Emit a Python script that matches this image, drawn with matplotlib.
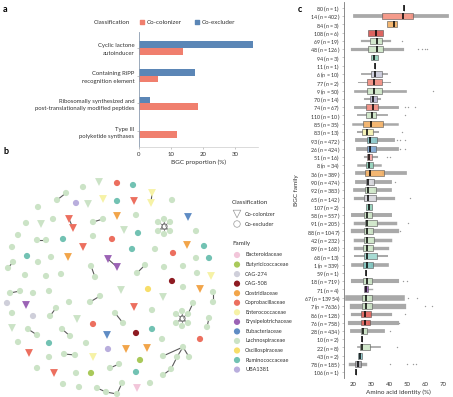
import matplotlib
matplotlib.use("Agg")
import matplotlib.pyplot as plt
import numpy as np

plt.rcParams['font.family'] = ['Lato', 'DejaVu Sans']
plt.rcParams['mathtext.fontset'] = 'custom'
plt.rcParams['mathtext.it'] = 'Lato:italic'
plt.rcParams['mathtext.rm'] = 'Lato'

# ---------------- Panel a data ----------------
a_categories = ["Cyclic lactone\nautoinducer", "Containing RiPP\nrecognition element",
                "Ribosomally synthesized and\npost-translationally modified peptides",
                "Type III\npolyketide synthases"]
a_colonizer = [13.8, 6.0, 18.4, 11.9]
a_excluder = [35.3, 17.5, 3.4, 0.0]
a_xticks = [0, 10, 20, 30]

COL_COLON = "#F07F6E"
COL_EXCL = "#5B86B6"

# ---------------- Panel b data ----------------
family_names = ["Bacteroidaceae", "Butyricicoccaceae", "CAG-274", "CAG-508", "Clostridiaceae",
                "Coprobacillaceae", "Enterococcaceae", "Erysipelotrichaceae", "Eubacteriaceae",
                "Lachnospiraceae", "Oscillospiraceae", "Ruminococcaceae", "UBA1381"]
family_codes = ["N", "K", "G", "D", "O", "R", "Y", "P", "B", "L", "S", "T", "U"]
family_colors = ["#F2C6DA", "#A9C95A", "#CFCFDA", "#8E1B22", "#F2A54A", "#EC6F5F", "#F6F2A6",
                 "#9B63B5", "#5F8CC4", "#CBE3C6", "#F7DE6A", "#72C2B3", "#B9AEDD"]

node_x = [99, 117, 133, 152, 151, 172, 57, 66, 83, 38, 76, 88, 103, 117, 134, 69, 73, 26, 41, 53,
          93, 103, 117, 136, 188, 18, 37, 46, 124, 138, 196, 12, 63, 112, 83, 187, 204, 132, 155, 173,
          27, 38, 51, 68, 108, 117, 196, 209, 13, 8, 91, 95, 145, 137, 164, 183, 93, 197, 211, 25,
          46, 61, 172, 183, 200, 213, 213, 10, 20, 33, 49, 121, 148, 163, 7, 26, 69, 90, 100, 134,
          33, 12, 50, 56, 77, 152, 115, 123, 207, 209, 93, 12, 28, 37, 62, 70, 107, 136, 152, 162,
          200, 18, 49, 86, 108, 126, 147, 183, 189, 177, 163, 29, 49, 64, 75, 93, 140, 171, 163, 37,
          54, 91, 76, 110, 119, 136, 63, 79, 97, 106, 117, 122, 137, 150,
          158, 164, 170, 170, 164, 158, 176, 182, 188, 188, 182, 176, 193]
node_y = [182, 183, 185, 193, 203, 200, 200, 193, 187, 207, 203, 204, 199, 201, 201, 219, 228, 223, 224, 219,
          222, 219, 216, 215, 217, 235, 240, 240, 230, 233, 231, 247, 239, 239, 247, 245, 246, 249, 249, 253,
          256, 262, 257, 257, 259, 267, 258, 258, 262, 268, 266, 277, 265, 273, 267, 266, 236, 273, 276, 275,
          276, 274, 281, 287, 289, 292, 302, 293, 291, 293, 291, 290, 289, 297, 303, 305, 302, 302, 296, 307,
          316, 313, 316, 308, 319, 310, 313, 323, 327, 318, 324, 328, 329, 335, 329, 336, 335, 333, 329, 339,
          339, 342, 343, 343, 349, 349, 348, 347, 357, 357, 356, 353, 357, 354, 355, 357, 360, 369, 375, 368,
          373, 373, 373, 368, 364, 372, 384, 387, 388, 392, 394, 383, 388, 383,
          222, 219, 222, 231, 234, 231, 314, 311, 314, 323, 326, 323, 303]
node_family = ["L", "R", "T", "Y", "Y", "L", "L", "L", "L", "L", "U", "L", "Y", "T", "R", "R", "R", "L", "L", "L",
               "L", "L", "O", "L", "B", "L", "L", "L", "L", "T", "L", "L", "T", "R", "R", "O", "T", "T", "L", "R",
               "T", "L", "L", "O", "P", "P", "L", "T", "L", "L", "L", "L", "L", "L", "L", "L", "L", "L", "Y", "L",
               "L", "L", "D", "L", "O", "L", "L", "L", "L", "L", "L", "L", "S", "L", "G", "P", "L", "L", "L", "R",
               "G", "L", "L", "L", "L", "L", "L", "L", "L", "L", "R", "L", "L", "L", "L", "L", "B", "D", "T", "L",
               "R", "L", "T", "L", "U", "O", "O", "L", "L", "L", "L", "R", "L", "L", "L", "Y", "K", "L", "L", "L",
               "R", "K", "L", "L", "L", "T", "L", "L", "L", "L", "L", "L", "N", "L",
               "L", "L", "L", "L", "L", "L", "L", "L", "L", "L", "L", "L", "L"]
node_class = ["c", "e", "e", "c", "c", "e", "e", "e", "e", "e", "e", "c", "c", "e", "c", "c", "c", "e", "c", "e",
              "e", "e", "c", "e", "c", "e", "e", "e", "c", "e", "e", "e", "e", "e", "c", "c", "e", "e", "e", "e",
              "e", "e", "e", "c", "c", "c", "e", "e", "e", "e", "e", "e", "e", "e", "e", "e", "e", "e", "c", "e",
              "e", "e", "e", "e", "c", "e", "e", "e", "e", "e", "e", "c", "e", "c", "e", "c", "e", "e", "e", "c",
              "e", "e", "e", "e", "c", "e", "e", "e", "e", "e", "e", "c", "e", "e", "e", "e", "c", "e", "e", "e",
              "e", "e", "e", "e", "e", "c", "c", "e", "e", "e", "e", "c", "e", "e", "e", "c", "e", "e", "e", "e",
              "c", "e", "e", "e", "e", "e", "e", "e", "e", "e", "e", "e", "c", "e",
              "e", "e", "e", "e", "e", "e", "e", "e", "e", "e", "e", "e", "e"]
edges = [(3, 4), (6, 7), (15, 16), (20, 21), (26, 27), (44, 45), (48, 49), (50, 51), (52, 53), (65, 66),
         (67, 68), (77, 78), (82, 83), (86, 87), (88, 89), (92, 93), (94, 95), (110, 107), (107, 108),
         (107, 109), (109, 117), (117, 118), (113, 114), (123, 124), (128, 129), (129, 130), (130, 131),
         (146, 142)]
hub_x = [164, 182]
hub_y = [226, 318]
hub_members = [[134, 135, 136, 137, 138, 139], [140, 141, 142, 143, 144, 145]]

# ---------------- Panel c data ----------------
c_family = ["80", "14", "84", "108", "69", "48", "94", "11", "6", "77", "9", "70", "74", "110", "85",
            "83", "93", "26", "51", "8", "36", "90", "92", "65", "107", "58", "91", "88", "42", "89",
            "68", "1", "59", "18", "71", "67", "7", "86", "76", "28", "10", "22", "43", "78", "106"]
c_n = [1, 402, 3, 6, 19, 126, 3, 1, 10, 2, 50, 14, 67, 10, 35,
       13, 472, 424, 16, 34, 389, 474, 383, 142, 2, 557, 205, 1047, 232, 168,
       13, 339, 1, 719, 4, 13954, 7636, 128, 758, 434, 2, 8, 2, 185, 1]
c_med = [48.5, 48.0, 42.8, 33.0, 33.5, 33.1, 31.9, 32.2, 32.2, 31.7, 31.7, 31.3, 30.9, 30.4, 29.8,
         28.0, 29.4, 29.4, 29.1, 28.9, 29.4, 28.5, 28.5, 28.5, 28.7, 28.0, 28.0, 28.0, 28.0, 27.6,
         28.0, 27.6, 27.2, 27.6, 27.2, 27.2, 27.2, 26.7, 26.7, 25.7, 24.8, 24.8, 24.0, 22.5, 21.7]
c_q1 = [48.5, 35.9, 38.7, 28.5, 29.4, 28.5, 29.8, 32.2, 30.0, 28.0, 27.6, 29.4, 27.2, 27.2, 25.7,
        25.0, 28.0, 28.0, 28.0, 27.2, 26.7, 27.2, 26.7, 26.1, 27.2, 26.1, 26.7, 26.1, 26.1, 25.7,
        26.1, 25.4, 27.2, 25.4, 26.1, 24.8, 24.8, 24.3, 24.3, 24.3, 24.8, 23.9, 23.0, 21.3, 21.7]
c_q3 = [48.5, 53.5, 44.3, 36.5, 35.9, 36.9, 34.1, 32.2, 35.9, 35.9, 35.9, 33.5, 34.1, 32.8, 36.9,
        31.3, 33.5, 32.8, 30.4, 30.9, 37.2, 31.7, 32.8, 32.8, 30.4, 30.4, 33.5, 31.3, 31.7, 31.3,
        33.5, 30.9, 27.2, 30.4, 28.5, 30.4, 30.4, 29.8, 29.4, 28.0, 24.8, 29.4, 25.0, 24.3, 21.7]
c_wlo = [48.5, 21.1, 38.7, 28.5, 24.8, 19.3, 29.8, 32.2, 24.8, 23.0, 21.1, 26.7, 21.1, 23.0, 20.2,
         23.0, 22.0, 23.0, 26.7, 23.0, 22.0, 22.0, 21.1, 21.1, 27.2, 20.2, 21.1, 20.2, 21.1, 21.1,
         21.1, 20.2, 27.2, 20.2, 26.1, 17.4, 19.3, 19.3, 18.3, 19.3, 24.8, 23.0, 23.0, 18.3, 21.7]
c_whi = [48.5, 72.0, 44.3, 36.5, 40.6, 47.0, 34.1, 32.2, 38.7, 40.6, 48.9, 35.0, 44.3, 38.7, 44.3,
         34.1, 42.4, 44.3, 33.5, 35.0, 48.9, 40.6, 40.6, 42.4, 30.4, 40.6, 43.3, 44.3, 40.6, 38.7,
         38.7, 38.7, 27.2, 44.3, 30.4, 47.0, 48.0, 40.6, 44.3, 36.9, 24.8, 35.0, 25.0, 26.7, 21.7]
c_fliers = [[], [], [], [], [47.0], [56.3, 58.1, 60.0, 61.3], [], [], [], [], [64.6], [], [48.9, 50.7, 54.4], [48.9], [],
            [47.0], [44.3, 46.1, 48.9], [46.1, 48.9], [38.7, 40.6], [], [], [43.3], [], [51.7], [], [], [50.7], [46.1], [], [],
            [], [], [], [48.0, 49.8], [], [50.7, 55.4], [60.0, 63.7], [48.9], [45.5], [40.6], [], [44.3], [], [40.6, 49.8, 53.5, 55.0], []]
c_colors = ["#FFFFFF", "#F4907F", "#F2AE62", "#D9534F", "#CDE6C7", "#CDE6C7", "#8FD0B8", "#FFFFFF", "#C9C9DA", "#F08A7C",
            "#CDE6C7", "#B7B4CF", "#F08A7C", "#CDE6C7", "#F2AE62", "#F6F2B0", "#88C7C9", "#7DA7D3", "#F3A3A0", "#8FD0B8",
            "#F2AE62", "#D6D6DC", "#CDE6C7", "#D6D6DC", "#8FD0B8", "#CDE6C7", "#CDE6C7", "#CDE6C7", "#CDE6C7", "#CDE6C7",
            "#9ED8CF", "#7CC4BE", "#FFFFFF", "#CDE6C7", "#9B63B5", "#CDE6C7", "#CDE6C7", "#E2605A", "#E2605A", "#CDE6C7",
            "#FFFFFF", "#CDE6C7", "#88C7C9", "#A8A8AE", "#FFFFFF"]
c_xticks = [20, 30, 40, 50, 60, 70]

# ---------------- Figure ----------------
W, H = 453, 397
fig = plt.figure(figsize=(W / 100, H / 100), dpi=100)


def frac(x0, y0, x1, y1):
    return [x0 / W, 1 - y1 / H, (x1 - x0) / W, (y1 - y0) / H]


TXT = "#333333"

# ---- Panel a ----
axa = fig.add_axes(frac(139, 32, 258, 147))
ya = np.arange(len(a_categories))
bh = 0.24
axa.barh(ya - bh / 2, a_excluder, height=bh, color=COL_EXCL)
axa.barh(ya + bh / 2, a_colonizer, height=bh, color=COL_COLON)
axa.set_ylim(3.57, -0.57)
axa.set_xlim(0, 37)
axa.set_yticks(ya)
axa.set_yticklabels(a_categories, fontsize=4.3, color=TXT, linespacing=1.6)
axa.set_xticks(a_xticks)
axa.set_xticklabels([str(t) for t in a_xticks], fontsize=4.3, color=TXT)
axa.set_xlabel("BGC proportion (%)", fontsize=4.6, color=TXT, labelpad=2)
for s in ["top", "right"]:
    axa.spines[s].set_visible(False)
axa.spines["left"].set_color("#8a9bb0")
axa.spines["bottom"].set_color("#cccccc")
axa.spines["left"].set_linewidth(0.6)
axa.spines["bottom"].set_linewidth(0.5)
axa.tick_params(axis="both", length=1.5, width=0.4, pad=2, colors="#999999", labelcolor=TXT)

# ---- Panel b ----
axb = fig.add_axes(frac(0, 168, 220, 397))
axb.set_xlim(0, 220)
axb.set_ylim(397, 168)
axb.axis("off")
fam_col = dict(zip(family_codes, family_colors))
for i, j in edges:
    axb.plot([node_x[i], node_x[j]], [node_y[i], node_y[j]], color="#5a5a5a", lw=0.8, zorder=1)
for hx, hy, mem in zip(hub_x, hub_y, hub_members):
    for m in mem:
        axb.plot([hx, node_x[m]], [hy, node_y[m]], color="#6a6a6a", lw=0.5, zorder=1)
for cls, mk, sz in [("e", "o", 20), ("c", "v", 32)]:
    idx = [k for k in range(len(node_x)) if node_class[k] == cls]
    axb.scatter([node_x[k] for k in idx], [node_y[k] for k in idx], s=sz, marker=mk,
                c=[fam_col[node_family[k]] for k in idx], edgecolors="none", zorder=2)
axb.scatter(hub_x, hub_y, s=14, marker="o", facecolors="white", edgecolors="#555555",
            linewidths=0.6, zorder=3)
axb.scatter(hub_x, hub_y, s=22, marker="^", facecolors="none", edgecolors="#777777",
            linewidths=0.4, zorder=3)

# ---- Panel c ----
axc = fig.add_axes(frac(344, 2, 453, 378))
pos = np.arange(len(c_family))
stats = []
for k in range(len(c_family)):
    stats.append(dict(med=c_med[k], q1=c_q1[k], q3=c_q3[k], whislo=c_wlo[k], whishi=c_whi[k],
                      fliers=c_fliers[k]))
bp = axc.bxp(stats, positions=pos, orientation="horizontal", widths=0.72, patch_artist=True,
             showcaps=False, manage_ticks=False,
             boxprops=dict(linewidth=0.45, edgecolor="#555555"),
             medianprops=dict(color="black", linewidth=1.1),
             flierprops=dict(marker="o", markersize=1.0, markerfacecolor="#9a9a9a",
                             markeredgecolor="none"))
for k, box in enumerate(bp["boxes"]):
    box.set_facecolor(c_colors[k])
    box.set_alpha(0.9)
    box.set_zorder(3)
for k in range(len(c_family)):
    lw = 0.5 + 0.85 * np.log10(max(c_n[k], 1))
    for w in bp["whiskers"][2 * k:2 * k + 2]:
        w.set_color("#8c8c8c")
        w.set_alpha(0.75)
        w.set_linewidth(lw)
        w.set_zorder(2)
for m in bp["medians"]:
    m.set_zorder(4)
axc.set_ylim(len(c_family) - 0.3, -0.7)
axc.set_xlim(15, 75.5)
axc.set_yticks(pos)
axc.set_yticklabels([f"{f} ($n$ = {n})" for f, n in zip(c_family, c_n)], fontsize=3.9, color=TXT)
axc.set_xticks(c_xticks)
axc.set_xticklabels([str(t) for t in c_xticks], fontsize=4.3, color=TXT)
axc.set_xlabel("Amino acid identity (%)", fontsize=4.6, color=TXT, labelpad=2)
axc.set_ylabel("BGC family", fontsize=4.6, color=TXT, labelpad=3)
for s in ["top", "right", "bottom"]:
    axc.spines[s].set_visible(False)
axc.spines["left"].set_color("#777777")
axc.spines["left"].set_linewidth(0.6)
axc.tick_params(axis="y", length=1.2, width=0.4, pad=1.5, colors="#999999", labelcolor=TXT)
axc.tick_params(axis="x", length=0, pad=3, labelcolor=TXT)

# ---- Overlay: legends and panel letters ----
ov = fig.add_axes([0, 0, 1, 1])
ov.set_xlim(0, W)
ov.set_ylim(H, 0)
ov.axis("off")
ov.set_zorder(10)
ov.patch.set_alpha(0)

fs = 4.5
# panel a legend
ov.text(130, 22, "Classification", fontsize=fs, color=TXT, ha="right", va="center")
ov.scatter([142], [22], s=12, marker="s", color=COL_COLON)
ov.text(147, 22, "Co-colonizer", fontsize=fs, color=TXT, ha="left", va="center")
ov.scatter([197], [22], s=12, marker="s", color=COL_EXCL)
ov.text(202, 22, "Co-excluder", fontsize=fs, color=TXT, ha="left", va="center")

# panel b legend
ov.text(232, 203, "Classification", fontsize=fs, color=TXT, ha="left", va="center")
ov.scatter([237], [214], s=30, marker="v", facecolors="none", edgecolors="#999999", linewidths=0.5)
ov.text(245, 214, "Co-colonizer", fontsize=4.0, color=TXT, ha="left", va="center")
ov.scatter([237], [224], s=22, marker="o", facecolors="none", edgecolors="#999999", linewidths=0.5)
ov.text(245, 224, "Co-excluder", fontsize=4.0, color=TXT, ha="left", va="center")
ov.text(232, 244, "Family", fontsize=fs, color=TXT, ha="left", va="center")
for k, (name, col) in enumerate(zip(family_names, family_colors)):
    yy = 255 + k * 9.55
    ov.scatter([237], [yy], s=20, marker="o", color=col, edgecolors="none")
    ov.text(245, yy, name, fontsize=4.0, color=TXT, ha="left", va="center")

for lab, xx, yy in [("a", 3, 9), ("b", 3, 152), ("c", 298, 9)]:
    ov.text(xx, yy, lab, fontsize=6.5, fontweight="bold", color="black", ha="left", va="center")

fig.savefig("out.png", dpi=100)
